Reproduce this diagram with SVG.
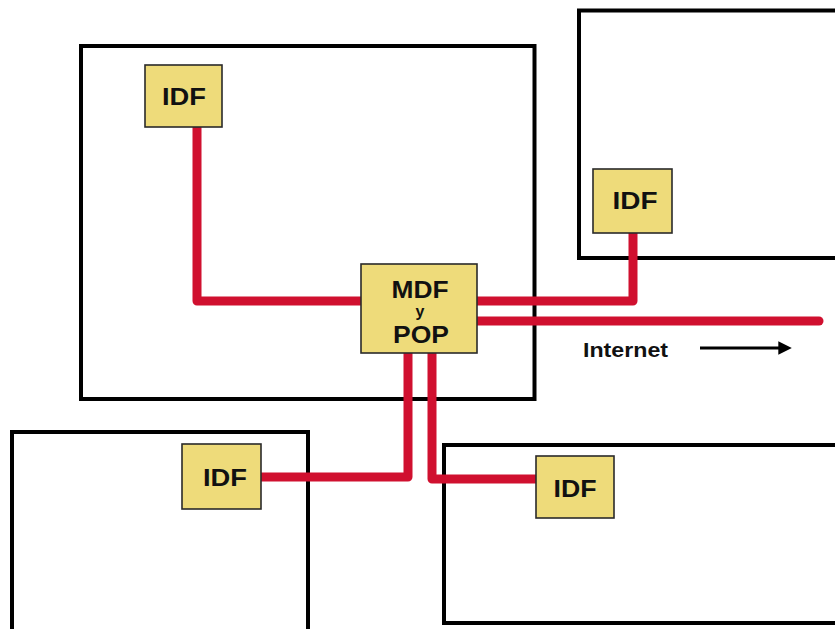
<svg xmlns="http://www.w3.org/2000/svg" width="835" height="629" viewBox="0 0 835 629">
  <style>
    .room { fill: none; stroke: #000; stroke-width: 4; }
    .cable { fill: none; stroke: #d0102f; stroke-width: 9; stroke-linejoin: round; }
    .box { fill: #eedb7a; stroke: #2a2a2a; stroke-width: 1.6; }
    .lbl { font-family: "Liberation Sans", Arial, sans-serif; font-weight: bold; fill: #111; text-anchor: middle; }
  </style>
  <defs>
    <marker id="arrowhead" viewBox="0 0 10 10" refX="2" refY="5" markerWidth="4.5" markerHeight="4.5" orient="auto">
      <path d="M0,0 L10,5 L0,10 z" fill="#000"/>
    </marker>
  </defs>
  <rect width="835" height="629" fill="#fff"/>

  <!-- rooms -->
  <g id="rooms">
    <rect class="room" x="81" y="46" width="453.5" height="353"/>
    <rect class="room" x="579" y="10.5" width="270" height="247.5"/>
    <rect class="room" x="12" y="432" width="296" height="210"/>
    <rect class="room" x="444" y="445" width="410" height="178"/>
  </g>

  <!-- cabling -->
  <g id="connectors">
    <path class="cable" d="M197 127 V301 H361"/>
    <path class="cable" d="M477 301 H633 V233"/>
    <path class="cable" d="M477 321 H819" stroke-linecap="round"/>
    <path class="cable" d="M408 353 V477 H261"/>
    <path class="cable" d="M432 353 V479 H536"/>
    <line x1="700" y1="348" x2="781" y2="348" stroke="#000" stroke-width="3" marker-end="url(#arrowhead)"/>
  </g>

  <g id="idf-top-left">
    <rect class="box" x="145" y="65" width="77" height="62"/>
    <text class="lbl" x="184" y="105" font-size="24" textLength="44" lengthAdjust="spacingAndGlyphs">IDF</text>
  </g>
  <g id="idf-top-right">
    <rect class="box" x="593" y="169" width="79" height="64"/>
    <text class="lbl" x="635" y="209" font-size="24" textLength="45" lengthAdjust="spacingAndGlyphs">IDF</text>
  </g>
  <g id="mdf-pop">
    <rect class="box" x="361" y="264" width="116" height="89"/>
    <text class="lbl" x="420" y="298" font-size="24" textLength="57" lengthAdjust="spacingAndGlyphs">MDF</text>
    <text class="lbl" x="420" y="317" font-size="16">y</text>
    <text class="lbl" x="421" y="343" font-size="24" textLength="56" lengthAdjust="spacingAndGlyphs">POP</text>
  </g>
  <g id="idf-bottom-left">
    <rect class="box" x="182" y="444" width="79" height="65"/>
    <text class="lbl" x="225" y="486" font-size="24" textLength="44" lengthAdjust="spacingAndGlyphs">IDF</text>
  </g>
  <g id="idf-bottom-right">
    <rect class="box" x="536" y="456" width="78" height="62"/>
    <text class="lbl" x="575" y="497" font-size="24" textLength="43" lengthAdjust="spacingAndGlyphs">IDF</text>
  </g>

  <g id="internet-label">
    <text class="lbl" x="625.5" y="357" font-size="20" textLength="85" lengthAdjust="spacingAndGlyphs">Internet</text>
  </g>
</svg>
